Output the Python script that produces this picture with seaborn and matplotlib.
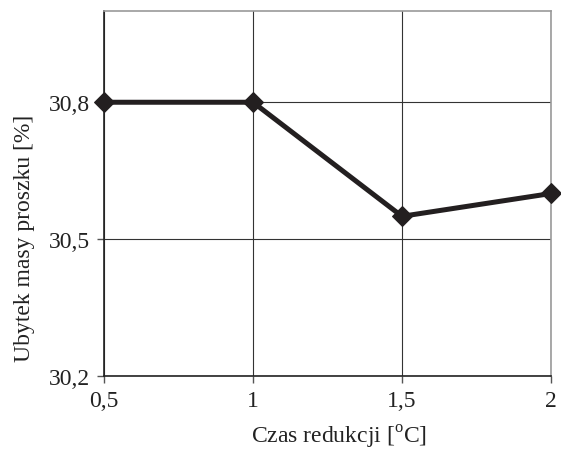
import matplotlib
matplotlib.use("Agg")
import matplotlib.pyplot as plt
import seaborn as sns
import pandas as pd

czas = [0.5, 1.0, 1.5, 2.0]
ubytek = [30.80, 30.80, 30.55, 30.60]
x_ticks = [0.5, 1.0, 1.5, 2.0]
x_labels = ["0,5", "1", "1,5", "2"]
y_ticks = [30.2, 30.5, 30.8]
y_labels = ["30,2", "30,5", "30,8"]

sns.set_style("white")
plt.rcParams['font.family'] = ['Liberation Serif', 'DejaVu Serif']
plt.rcParams['mathtext.fontset'] = 'custom'
plt.rcParams['mathtext.rm'] = 'Liberation Serif'

df = pd.DataFrame({"czas": czas, "ubytek": ubytek})

fig = plt.figure(figsize=(5.61, 4.52), dpi=100)
ax = fig.add_axes([104/561, 1-377/452, (551-104)/561, (377-12)/452])

sns.lineplot(data=df, x="czas", y="ubytek", ax=ax, color="#231f20",
             linewidth=3.6, marker="D", markersize=10.5, markeredgecolor="#231f20",
             zorder=5, clip_on=False)

ax.set_xlim(0.5, 2.0)
ax.set_ylim(30.2, 31.0)
ax.set_xticks(x_ticks)
ax.set_xticklabels(x_labels)
ax.set_yticks(y_ticks)
ax.set_yticklabels(y_labels)
ax.grid(True, color="#333333", linewidth=0.8)
ax.set_axisbelow(True)

for s in ["left", "bottom"]:
    ax.spines[s].set_color("#222222")
    ax.spines[s].set_linewidth(1.2)
for s in ["top", "right"]:
    ax.spines[s].set_color("#999999")
    ax.spines[s].set_linewidth(1.2)

ax.tick_params(axis="both", direction="out", length=5, width=1, color="#555555",
               labelsize=17, labelcolor="#222222", pad=5, left=True, bottom=True)

ax.set_xlabel("Czas redukcji [$^{\\rm o}$C]", fontsize=17, color="#222222")
ax.set_ylabel("Ubytek masy proszku [%]", fontsize=17, color="#222222")
ax.xaxis.set_label_coords((339 - 104) / 447, (377 - 424) / 365)
ax.yaxis.set_label_coords((35 - 104) / 447, (377 - 238) / 365)

fig.savefig("out.png", dpi=100)
